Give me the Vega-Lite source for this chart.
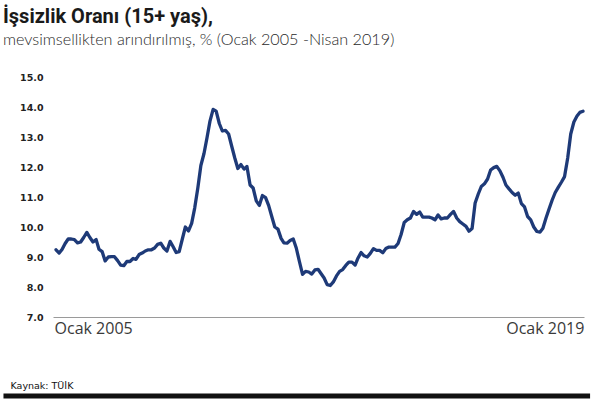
{
  "$schema": "https://vega.github.io/schema/vega-lite/v6.json",
  "width": 531,
  "height": 240,
  "autosize": {"type": "none"},
  "padding": {"left": 53, "top": 77, "right": 16, "bottom": 82},
  "background": "white",
  "title": {
    "text": "İşsizlik Oranı (15+ yaş),",
    "subtitle": "mevsimsellikten arındırılmış, % (Ocak 2005 -Nisan 2019)",
    "anchor": "start",
    "frame": "group",
    "dx": -50,
    "offset": 24,
    "font": "Roboto",
    "fontSize": 20,
    "fontWeight": "bold",
    "color": "#1a1a1a",
    "subtitleFont": "Lato",
    "subtitleFontSize": 16.2,
    "subtitleFontWeight": 300,
    "subtitleColor": "#2a2a2a",
    "subtitlePadding": 5
  },
  "layer": [
    {
      "data": {
        "values": [
          {"date": "2005-01-01", "rate": 9.24}, {"date": "2005-02-01", "rate": 9.13}, {"date": "2005-03-01", "rate": 9.25}, {"date": "2005-04-01", "rate": 9.45}, {"date": "2005-05-01", "rate": 9.60}, {"date": "2005-06-01", "rate": 9.60}, {"date": "2005-07-01", "rate": 9.58}, {"date": "2005-08-01", "rate": 9.47}, {"date": "2005-09-01", "rate": 9.50}, {"date": "2005-10-01", "rate": 9.65}, {"date": "2005-11-01", "rate": 9.82}, {"date": "2005-12-01", "rate": 9.65},
          {"date": "2006-01-01", "rate": 9.50}, {"date": "2006-02-01", "rate": 9.58}, {"date": "2006-03-01", "rate": 9.26}, {"date": "2006-04-01", "rate": 9.18}, {"date": "2006-05-01", "rate": 8.87}, {"date": "2006-06-01", "rate": 9.00}, {"date": "2006-07-01", "rate": 9.01}, {"date": "2006-08-01", "rate": 9.01}, {"date": "2006-09-01", "rate": 8.88}, {"date": "2006-10-01", "rate": 8.73}, {"date": "2006-11-01", "rate": 8.71}, {"date": "2006-12-01", "rate": 8.85},
          {"date": "2007-01-01", "rate": 8.85}, {"date": "2007-02-01", "rate": 8.95}, {"date": "2007-03-01", "rate": 8.92}, {"date": "2007-04-01", "rate": 9.08}, {"date": "2007-05-01", "rate": 9.13}, {"date": "2007-06-01", "rate": 9.20}, {"date": "2007-07-01", "rate": 9.24}, {"date": "2007-08-01", "rate": 9.24}, {"date": "2007-09-01", "rate": 9.30}, {"date": "2007-10-01", "rate": 9.42}, {"date": "2007-11-01", "rate": 9.46}, {"date": "2007-12-01", "rate": 9.30},
          {"date": "2008-01-01", "rate": 9.20}, {"date": "2008-02-01", "rate": 9.52}, {"date": "2008-03-01", "rate": 9.35}, {"date": "2008-04-01", "rate": 9.15}, {"date": "2008-05-01", "rate": 9.18}, {"date": "2008-06-01", "rate": 9.60}, {"date": "2008-07-01", "rate": 10.00}, {"date": "2008-08-01", "rate": 9.87}, {"date": "2008-09-01", "rate": 10.12}, {"date": "2008-10-01", "rate": 10.63}, {"date": "2008-11-01", "rate": 11.30}, {"date": "2008-12-01", "rate": 12.05},
          {"date": "2009-01-01", "rate": 12.45}, {"date": "2009-02-01", "rate": 13.00}, {"date": "2009-03-01", "rate": 13.53}, {"date": "2009-04-01", "rate": 13.92}, {"date": "2009-05-01", "rate": 13.86}, {"date": "2009-06-01", "rate": 13.45}, {"date": "2009-07-01", "rate": 13.20}, {"date": "2009-08-01", "rate": 13.22}, {"date": "2009-09-01", "rate": 13.10}, {"date": "2009-10-01", "rate": 12.70}, {"date": "2009-11-01", "rate": 12.30}, {"date": "2009-12-01", "rate": 11.95},
          {"date": "2010-01-01", "rate": 12.08}, {"date": "2010-02-01", "rate": 11.93}, {"date": "2010-03-01", "rate": 12.02}, {"date": "2010-04-01", "rate": 11.40}, {"date": "2010-05-01", "rate": 11.30}, {"date": "2010-06-01", "rate": 10.87}, {"date": "2010-07-01", "rate": 10.72}, {"date": "2010-08-01", "rate": 11.05}, {"date": "2010-09-01", "rate": 10.98}, {"date": "2010-10-01", "rate": 10.72}, {"date": "2010-11-01", "rate": 10.35}, {"date": "2010-12-01", "rate": 10.00},
          {"date": "2011-01-01", "rate": 9.93}, {"date": "2011-02-01", "rate": 9.62}, {"date": "2011-03-01", "rate": 9.47}, {"date": "2011-04-01", "rate": 9.46}, {"date": "2011-05-01", "rate": 9.55}, {"date": "2011-06-01", "rate": 9.60}, {"date": "2011-07-01", "rate": 9.30}, {"date": "2011-08-01", "rate": 8.85}, {"date": "2011-09-01", "rate": 8.42}, {"date": "2011-10-01", "rate": 8.52}, {"date": "2011-11-01", "rate": 8.50}, {"date": "2011-12-01", "rate": 8.43},
          {"date": "2012-01-01", "rate": 8.57}, {"date": "2012-02-01", "rate": 8.59}, {"date": "2012-03-01", "rate": 8.45}, {"date": "2012-04-01", "rate": 8.30}, {"date": "2012-05-01", "rate": 8.08}, {"date": "2012-06-01", "rate": 8.05}, {"date": "2012-07-01", "rate": 8.17}, {"date": "2012-08-01", "rate": 8.37}, {"date": "2012-09-01", "rate": 8.52}, {"date": "2012-10-01", "rate": 8.58}, {"date": "2012-11-01", "rate": 8.72}, {"date": "2012-12-01", "rate": 8.83},
          {"date": "2013-01-01", "rate": 8.83}, {"date": "2013-02-01", "rate": 8.73}, {"date": "2013-03-01", "rate": 8.96}, {"date": "2013-04-01", "rate": 9.15}, {"date": "2013-05-01", "rate": 9.04}, {"date": "2013-06-01", "rate": 9.00}, {"date": "2013-07-01", "rate": 9.12}, {"date": "2013-08-01", "rate": 9.28}, {"date": "2013-09-01", "rate": 9.22}, {"date": "2013-10-01", "rate": 9.22}, {"date": "2013-11-01", "rate": 9.14}, {"date": "2013-12-01", "rate": 9.28},
          {"date": "2014-01-01", "rate": 9.33}, {"date": "2014-02-01", "rate": 9.33}, {"date": "2014-03-01", "rate": 9.33}, {"date": "2014-04-01", "rate": 9.45}, {"date": "2014-05-01", "rate": 9.75}, {"date": "2014-06-01", "rate": 10.15}, {"date": "2014-07-01", "rate": 10.24}, {"date": "2014-08-01", "rate": 10.30}, {"date": "2014-09-01", "rate": 10.52}, {"date": "2014-10-01", "rate": 10.42}, {"date": "2014-11-01", "rate": 10.50}, {"date": "2014-12-01", "rate": 10.33},
          {"date": "2015-01-01", "rate": 10.33}, {"date": "2015-02-01", "rate": 10.33}, {"date": "2015-03-01", "rate": 10.30}, {"date": "2015-04-01", "rate": 10.24}, {"date": "2015-05-01", "rate": 10.40}, {"date": "2015-06-01", "rate": 10.27}, {"date": "2015-07-01", "rate": 10.30}, {"date": "2015-08-01", "rate": 10.30}, {"date": "2015-09-01", "rate": 10.42}, {"date": "2015-10-01", "rate": 10.52}, {"date": "2015-11-01", "rate": 10.30}, {"date": "2015-12-01", "rate": 10.18},
          {"date": "2016-01-01", "rate": 10.10}, {"date": "2016-02-01", "rate": 10.02}, {"date": "2016-03-01", "rate": 9.86}, {"date": "2016-04-01", "rate": 9.95}, {"date": "2016-05-01", "rate": 10.80}, {"date": "2016-06-01", "rate": 11.10}, {"date": "2016-07-01", "rate": 11.35}, {"date": "2016-08-01", "rate": 11.44}, {"date": "2016-09-01", "rate": 11.60}, {"date": "2016-10-01", "rate": 11.90}, {"date": "2016-11-01", "rate": 11.98}, {"date": "2016-12-01", "rate": 12.02},
          {"date": "2017-01-01", "rate": 11.87}, {"date": "2017-02-01", "rate": 11.65}, {"date": "2017-03-01", "rate": 11.40}, {"date": "2017-04-01", "rate": 11.27}, {"date": "2017-05-01", "rate": 11.15}, {"date": "2017-06-01", "rate": 11.06}, {"date": "2017-07-01", "rate": 11.13}, {"date": "2017-08-01", "rate": 10.78}, {"date": "2017-09-01", "rate": 10.67}, {"date": "2017-10-01", "rate": 10.35}, {"date": "2017-11-01", "rate": 10.24}, {"date": "2017-12-01", "rate": 10.00},
          {"date": "2018-01-01", "rate": 9.85}, {"date": "2018-02-01", "rate": 9.83}, {"date": "2018-03-01", "rate": 9.96}, {"date": "2018-04-01", "rate": 10.30}, {"date": "2018-05-01", "rate": 10.60}, {"date": "2018-06-01", "rate": 10.90}, {"date": "2018-07-01", "rate": 11.15}, {"date": "2018-08-01", "rate": 11.33}, {"date": "2018-09-01", "rate": 11.50}, {"date": "2018-10-01", "rate": 11.68}, {"date": "2018-11-01", "rate": 12.30}, {"date": "2018-12-01", "rate": 13.10},
          {"date": "2019-01-01", "rate": 13.50}, {"date": "2019-02-01", "rate": 13.70}, {"date": "2019-03-01", "rate": 13.82}, {"date": "2019-04-01", "rate": 13.86}
        ]
      },
      "mark": {"type": "line", "color": "#1e3a78", "strokeWidth": 3.3, "strokeJoin": "round", "strokeCap": "round"},
      "encoding": {
        "x": {
          "field": "date",
          "type": "temporal",
          "scale": {"type": "utc", "domain": [{"year": 2004, "month": 12, "date": 2, "utc": true}, {"year": 2019, "month": 4, "date": 11, "utc": true}]},
          "axis": {
            "values": [{"year": 2005, "month": 1, "date": 1, "utc": true}, {"year": 2019, "month": 1, "date": 1, "utc": true}],
            "labelExpr": "'Ocak ' + utcFormat(datum.value, '%Y')",
            "grid": false,
            "ticks": false,
            "domainColor": "#9a9a9a",
            "domainWidth": 1,
            "labelFont": "Open Sans",
            "labelFontSize": 16,
            "labelColor": "#3a3a3a",
            "labelPadding": 3,
            "labelAlign": {"condition": {"test": "datum.index == 0", "value": "left"}, "value": "right"},
            "labelOffset": {"condition": {"test": "datum.index == 0", "value": -2}, "value": 10},
            "labelFlush": false,
            "labelOverlap": false,
            "title": "Kaynak: TÜİK",
            "titleX": -43,
            "titleY": 71,
            "titleAlign": "left",
            "titleAnchor": "start",
            "titleBaseline": "alphabetic",
            "titleFont": "DejaVu Sans",
            "titleFontSize": 9.5,
            "titleFontWeight": "normal",
            "titleColor": "#111111"
          }
        },
        "y": {
          "field": "rate",
          "type": "quantitative",
          "scale": {"domain": [7, 15], "nice": false, "zero": false},
          "axis": {
            "values": [7, 8, 9, 10, 11, 12, 13, 14, 15],
            "format": ".1f",
            "title": null,
            "grid": false,
            "ticks": false,
            "domain": false,
            "labelOverlap": false,
            "labelFont": "DejaVu Sans",
            "labelFontWeight": "bold",
            "labelFontSize": 9.5,
            "labelColor": "#222222",
            "labelPadding": 10
          }
        }
      }
    },
    {
      "data": {"values": [{"item": "alt çizgi"}]},
      "mark": {"type": "rule", "color": "#111111", "strokeWidth": 5, "clip": false},
      "encoding": {
        "x": {"datum": {"year": 2003, "month": 8, "date": 1, "utc": true}, "type": "temporal"},
        "x2": {"datum": {"year": 2019, "month": 6, "date": 10, "utc": true}},
        "y": {
          "datum": 4.37,
          "type": "quantitative",
          "scale": {"domain": [7, 15], "nice": false, "zero": false},
          "axis": {
            "values": [7, 8, 9, 10, 11, 12, 13, 14, 15],
            "format": ".1f",
            "title": null,
            "grid": false,
            "ticks": false,
            "domain": false,
            "labelOverlap": false,
            "labelFont": "DejaVu Sans",
            "labelFontWeight": "bold",
            "labelFontSize": 9.5,
            "labelColor": "#222222",
            "labelPadding": 10
          }
        }
      }
    }
  ],
  "config": {"view": {"stroke": null}, "axisY": {"labelOverlap": false}}
}
